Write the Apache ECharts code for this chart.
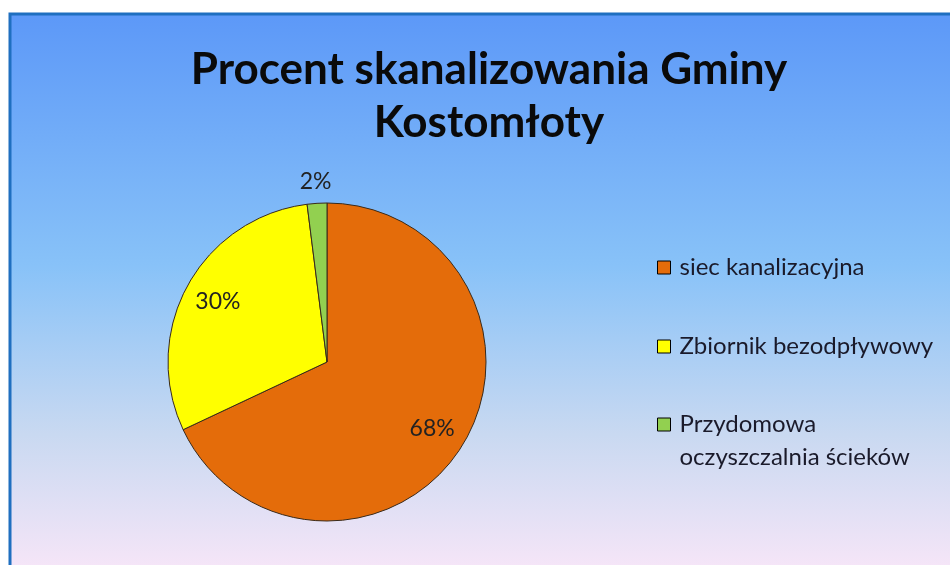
<!DOCTYPE html>
<html>
<head>
<meta charset="utf-8">
<script src="https://cdn.jsdelivr.net/npm/echarts@6/dist/echarts.min.js"></script>
<style>
html,body{margin:0;padding:0;background:#fff;}
#chart{width:950px;height:565px;}
</style>
</head>
<body>
<div id="chart"></div>
<script>
const titleText = 'Procent skanalizowania Gminy\nKostomłoty';
const categories = ['siec kanalizacyjna', 'Zbiornik bezodpływowy', 'Przydomowa oczyszczalnia ścieków'];
const values = [68, 30, 2];
const colors = ['#E46C0A', '#FFFF00', '#92D050'];

const FONT = 'Lato, "Open Sans", sans-serif';
const chart = echarts.init(document.getElementById('chart'), null, {renderer: 'canvas'});

const center = [327, 362];
const R = 159;

const mainData = categories.map((c, i) => ({name: c, value: values[i], itemStyle: {color: colors[i]}}));
const innerLabelData = categories.map((c, i) => ({name: c, value: values[i], label: {show: i < 2}}));
const outerLabelData = categories.map((c, i) => ({name: c, value: values[i], label: {show: i === 2}}));

const labelStyle = {
  position: 'inside',
  formatter: '{d}%',
  fontFamily: FONT,
  fontSize: 23,
  color: '#222222'
};

const legendText = {fontFamily: FONT, fontSize: 24, lineHeight: 33, color: '#1a1a2a', padding: [0, 0, 0, 4]};

chart.setOption({
  animation: false,
  graphic: [{
    type: 'rect',
    z: -10,
    silent: true,
    shape: {x: 10, y: 14, width: 945, height: 560},
    style: {
      fill: new echarts.graphic.LinearGradient(0, 0, 0, 1, [
        {offset: 0, color: '#5C98F8'},
        {offset: 0.45, color: '#88C2F8'},
        {offset: 0.75, color: '#C9D9F1'},
        {offset: 1, color: '#F8E6F8'}
      ]),
      stroke: '#1F6FC0',
      lineWidth: 3
    }
  }],
  title: {
    text: titleText,
    left: 484,
    textAlign: 'center',
    top: 38,
    textStyle: {
      fontFamily: FONT,
      fontWeight: 'bold',
      fontSize: 44,
      lineHeight: 53,
      color: '#0a0a0a'
    }
  },
  legend: [{
    data: categories.slice(0, 2),
    orient: 'vertical',
    left: 657,
    top: 251,
    padding: 0,
    itemGap: 46,
    itemWidth: 13,
    itemHeight: 13,
    icon: 'rect',
    itemStyle: {borderColor: '#000', borderWidth: 1},
    textStyle: legendText,
    selectedMode: false
  }, {
    data: categories.slice(2),
    orient: 'vertical',
    left: 657,
    top: 375,
    padding: 0,
    itemWidth: 13,
    itemHeight: 13,
    icon: 'rect',
    itemStyle: {borderColor: '#000', borderWidth: 1},
    formatter: function (name) { return '\n' + name.replace(' ', '\n'); },
    textStyle: legendText,
    selectedMode: false
  }],
  series: [{
    type: 'pie',
    center: center,
    radius: R,
    startAngle: 90,
    clockwise: true,
    data: mainData,
    label: {show: false},
    labelLine: {show: false},
    itemStyle: {borderColor: '#3a2a1a', borderWidth: 1},
    emphasis: {disabled: true},
    silent: true
  }, {
    type: 'pie',
    center: center,
    radius: [84, R],
    startAngle: 90,
    clockwise: true,
    data: innerLabelData,
    itemStyle: {color: 'rgba(0,0,0,0)'},
    label: labelStyle,
    labelLine: {show: false},
    emphasis: {disabled: true},
    silent: true
  }, {
    type: 'pie',
    center: center,
    radius: [R + 4, R + 34],
    startAngle: 90,
    clockwise: true,
    data: outerLabelData,
    itemStyle: {color: 'rgba(0,0,0,0)'},
    label: labelStyle,
    labelLine: {show: false},
    emphasis: {disabled: true},
    silent: true
  }]
});
</script>
</body>
</html>
